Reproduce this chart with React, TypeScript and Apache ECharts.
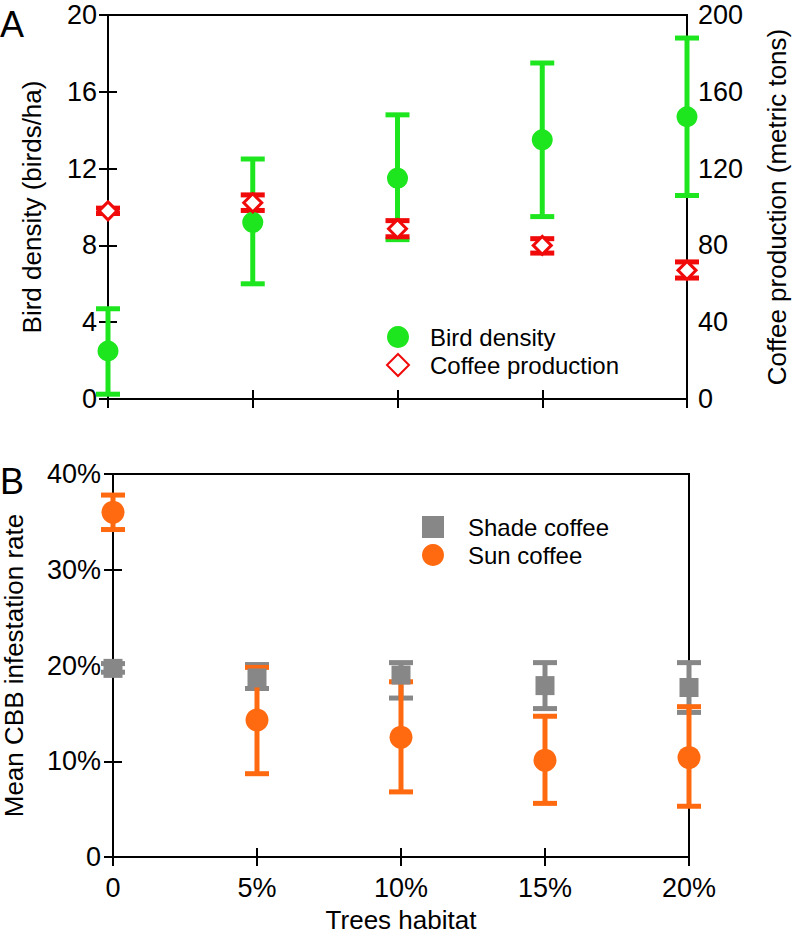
import React, { useEffect, useRef } from "react";
import * as echarts from "echarts";

// ---- data ----
const habitat = [0, 5, 10, 15, 20];

const birdDensity = [2.5, 9.2, 11.5, 13.5, 14.7];
const birdLow = [0.25, 6.0, 8.3, 9.5, 10.6];
const birdHigh = [4.7, 12.5, 14.8, 17.5, 18.8];

const coffeeProd = [98, 102.2, 88.7, 80, 67];
const coffeeLow = [96.6, 98.2, 84.5, 76, 63];
const coffeeHigh = [99.4, 106.3, 92.9, 83.5, 71.4];

const shadeCoffee = [19.7, 18.7, 19.0, 17.9, 17.7];
const shadeLow = [19.3, 17.6, 16.6, 15.5, 15.1];
const shadeHigh = [20.2, 20.1, 20.3, 20.3, 20.3];

const sunCoffee = [36, 14.3, 12.5, 10.1, 10.4];
const sunLow = [34.2, 8.7, 6.8, 5.6, 5.3];
const sunHigh = [37.8, 19.8, 18.3, 14.7, 15.7];

const birdTicks = [0, 4, 8, 12, 16, 20];
const coffeeTicks = [0, 40, 80, 120, 160, 200];
const pctTicks = [0, 10, 20, 30, 40];

const GREEN = "#1ee61e";
const RED = "#f00a0a";
const ORANGE = "#ff6a10";
const GRAY = "#878787";
const FONT = "Liberation Sans";

function errorBars(name: string, color: string, low: number[], high: number[], xi: number, yi: number, lw: number) {
  return {
    name,
    type: "custom",
    xAxisIndex: xi,
    yAxisIndex: yi,
    clip: false,
    silent: true,
    data: habitat.map((h, i) => [h, low[i], high[i]]),
    encode: { x: 0, y: [1, 2] },
    renderItem: (params: any, api: any) => {
      const x = api.value(0);
      const pLo = api.coord([x, api.value(1)]);
      const pHi = api.coord([x, api.value(2)]);
      const hw = 12;
      return {
        type: "group",
        children: [
          { type: "line", shape: { x1: pLo[0], y1: pLo[1], x2: pHi[0], y2: pHi[1] }, style: { stroke: color, lineWidth: lw } },
          { type: "line", shape: { x1: pLo[0] - hw, y1: pLo[1], x2: pLo[0] + hw, y2: pLo[1] }, style: { stroke: color, lineWidth: 5 } },
          { type: "line", shape: { x1: pHi[0] - hw, y1: pHi[1], x2: pHi[0] + hw, y2: pHi[1] }, style: { stroke: color, lineWidth: 5 } },
        ],
      };
    },
  };
}

const labelStyle = { fontFamily: FONT, fontSize: 27, color: "#000" };
const nameStyle = { fontFamily: FONT, fontSize: 26, color: "#000" };
const lineStyle = { lineStyle: { color: "#000", width: 2 } };
const tickStyle = { show: true, inside: true, length: 9, lineStyle: { color: "#000", width: 2 } };

export default function App() {
  const ref = useRef<HTMLDivElement>(null);
  useEffect(() => {
    if (!ref.current) return;
    const chart = echarts.init(ref.current, null, { renderer: "svg" });
    const pctFmt = (v: number) => (v === 0 ? "0" : v + "%");
    chart.setOption({
      animation: false,
      backgroundColor: "#fff",
      grid: [
        { left: 108, right: 109, top: 15, bottom: 537, show: true, borderColor: "#000", borderWidth: 2, outerBoundsMode: "none", containLabel: false },
        { left: 113, right: 107, top: 474, bottom: 79, show: true, borderColor: "#000", borderWidth: 2, outerBoundsMode: "none", containLabel: false },
      ],
      xAxis: [
        { type: "value", gridIndex: 0, position: "bottom", min: 0, max: 20, interval: 5, axisLine: lineStyle, axisTick: tickStyle, axisLabel: { show: false }, splitLine: { show: false } },
        { type: "value", gridIndex: 0, position: "top", min: 0, max: 20, interval: 5, axisLine: lineStyle, axisTick: tickStyle, axisLabel: { show: false }, splitLine: { show: false } },
        {
          type: "value", gridIndex: 1, position: "bottom", min: 0, max: 20, interval: 5,
          axisLine: lineStyle, axisTick: tickStyle,
          axisLabel: { ...labelStyle, margin: 17, formatter: pctFmt, customValues: habitat },
          splitLine: { show: false },
          name: "Trees habitat", nameLocation: "middle", nameGap: 50, nameTextStyle: nameStyle,
        },
        { type: "value", gridIndex: 1, position: "top", min: 0, max: 20, interval: 5, axisLine: lineStyle, axisTick: tickStyle, axisLabel: { show: false }, splitLine: { show: false } },
      ],
      yAxis: [
        {
          type: "value", gridIndex: 0, position: "left", min: 0, max: 20, interval: 4,
          axisLine: lineStyle, axisTick: tickStyle,
          axisLabel: { ...labelStyle, margin: 11, customValues: birdTicks },
          splitLine: { show: false },
          name: "Bird density (birds/ha)", nameLocation: "middle", nameGap: 63, nameTextStyle: nameStyle,
        },
        {
          type: "value", gridIndex: 0, position: "right", min: 0, max: 200, interval: 40,
          axisLine: lineStyle, axisTick: tickStyle,
          axisLabel: { ...labelStyle, margin: 11, customValues: coffeeTicks },
          splitLine: { show: false },
          name: "Coffee production (metric tons)", nameLocation: "middle", nameGap: 77, nameTextStyle: nameStyle,
        },
        {
          type: "value", gridIndex: 1, position: "left", min: 0, max: 40, interval: 10,
          axisLine: lineStyle, axisTick: tickStyle,
          axisLabel: { ...labelStyle, margin: 12, formatter: pctFmt, customValues: pctTicks },
          splitLine: { show: false },
          name: "Mean CBB infestation rate", nameLocation: "middle", nameGap: 86, nameTextStyle: nameStyle,
        },
        { type: "value", gridIndex: 1, position: "right", min: 0, max: 40, interval: 10, axisLine: lineStyle, axisTick: tickStyle, axisLabel: { show: false }, splitLine: { show: false } },
      ],
      legend: [
        {
          data: ["Bird density", "Coffee production"],
          orient: "vertical", left: 386, top: 323, padding: 0, itemWidth: 22, itemHeight: 22, itemGap: 0,
          textStyle: { fontFamily: FONT, fontSize: 24, color: "#000", lineHeight: 28, padding: [0, 0, 0, 16] },
        },
        {
          data: ["Shade coffee", "Sun coffee"],
          orient: "vertical", left: 422, top: 513, padding: 0, itemWidth: 22, itemHeight: 22, itemGap: 0,
          textStyle: { fontFamily: FONT, fontSize: 24, color: "#000", lineHeight: 28, padding: [0, 0, 0, 19] },
        },
      ],
      graphic: [
        { type: "text", left: 0, top: 6, style: { text: "A", font: `36px "${FONT}"`, fill: "#000" } },
        { type: "text", left: 0, top: 463, style: { text: "B", font: `36px "${FONT}"`, fill: "#000" } },
      ],
      series: [
        errorBars("birdErr", GREEN, birdLow, birdHigh, 0, 0, 5),
        {
          name: "Bird density", type: "scatter", xAxisIndex: 0, yAxisIndex: 0, clip: false,
          symbol: "circle", symbolSize: 21, itemStyle: { color: GREEN, opacity: 1 },
          data: habitat.map((h, i) => [h, birdDensity[i]]),
        },
        {
          name: "Coffee production", type: "scatter", xAxisIndex: 0, yAxisIndex: 1, clip: false,
          symbol: "diamond", symbolSize: 18, itemStyle: { color: "#fff", borderColor: RED, borderWidth: 3, opacity: 1 },
          data: habitat.map((h, i) => [h, coffeeProd[i]]),
        },
        errorBars("coffeeErr", RED, coffeeLow, coffeeHigh, 0, 1, 5),
        errorBars("shadeErr", GRAY, shadeLow, shadeHigh, 2, 2, 5),
        {
          name: "Shade coffee", type: "scatter", xAxisIndex: 2, yAxisIndex: 2, clip: false,
          symbol: "rect", symbolSize: 19, itemStyle: { color: GRAY, opacity: 1 },
          data: habitat.map((h, i) => [h, shadeCoffee[i]]),
        },
        errorBars("sunErr", ORANGE, sunLow, sunHigh, 2, 2, 5),
        {
          name: "Sun coffee", type: "scatter", xAxisIndex: 2, yAxisIndex: 2, clip: false,
          symbol: "circle", symbolSize: 23, itemStyle: { color: ORANGE, opacity: 1 },
          data: habitat.map((h, i) => [h, sunCoffee[i]]),
        },
      ],
    });
    return () => chart.dispose();
  }, []);
  return <div ref={ref} style={{ position: "fixed", left: 0, top: 0, width: 796, height: 936 }} />;
}
